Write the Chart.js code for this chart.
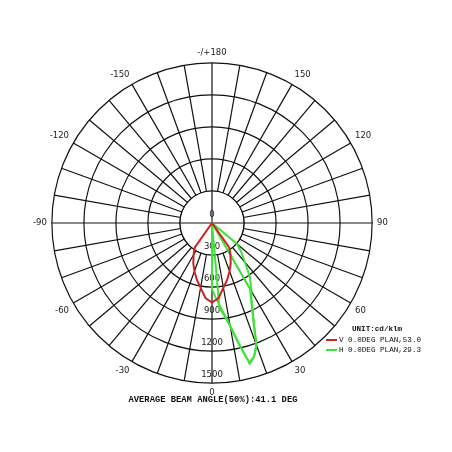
<!DOCTYPE html>
<html>
<head>
<meta charset="utf-8">
<title>Polar candela curve</title>
<script src="https://cdn.jsdelivr.net/npm/chart.js@4.4.1/dist/chart.umd.min.js"></script>
<style>
  body { margin: 0; background: #fff; }
  #wrap { position: relative; width: 452px; height: 452px; overflow: hidden; }
  #chartBox { position: absolute; left: 0; top: 0; width: 452px; height: 452px; }
  .mono { position: absolute; font-family: "Liberation Mono", "DejaVu Sans Mono", monospace; white-space: pre; color: #111; }
  .swatch { position: absolute; width: 11px; height: 2px; }
</style>
</head>
<body>
<div id="wrap">
  <div id="chartBox"><canvas id="polar"></canvas></div>
</div>
<script>
// angle categories, 2.5 deg apart, clockwise from the top (180) like the chart
const angles = [
  180, 177.5, 175, 172.5, 170, 167.5, 165, 162.5, 160, 157.5, 155, 152.5,
  150, 147.5, 145, 142.5, 140, 137.5, 135, 132.5, 130, 127.5, 125, 122.5,
  120, 117.5, 115, 112.5, 110, 107.5, 105, 102.5, 100, 97.5, 95, 92.5,
  90, 87.5, 85, 82.5, 80, 77.5, 75, 72.5, 70, 67.5, 65, 62.5,
  60, 57.5, 55, 52.5, 50, 47.5, 45, 42.5, 40, 37.5, 35, 32.5,
  30, 27.5, 25, 22.5, 20, 17.5, 15, 12.5, 10, 7.5, 5, 2.5,
  0, -2.5, -5, -7.5, -10, -12.5, -15, -17.5, -20, -22.5, -25, -27.5,
  -30, -32.5, -35, -37.5, -40, -42.5, -45, -47.5, -50, -52.5, -55, -57.5,
  -60, -62.5, -65, -67.5, -70, -72.5, -75, -77.5, -80, -82.5, -85, -87.5,
  -90, -92.5, -95, -97.5, -100, -102.5, -105, -107.5, -110, -112.5, -115, -117.5,
  -120, -122.5, -125, -127.5, -130, -132.5, -135, -137.5, -140, -142.5, -145, -147.5,
  -150, -152.5, -155, -157.5, -160, -162.5, -165, -167.5, -170, -172.5, -175, -177.5
];

const angleMarks = [180, 150, 120, 90, 60, 30, 0, -30, -60, -90, -120, -150];
const angleMarkText = ['-/+180', '150', '120', '90', '60', '30', '0', '-30', '-60', '-90', '-120', '-150'];
const radialTicks = [0, 300, 600, 900, 1200, 1500];

// V plane (red), cd/klm
const vDeg = [-40, -35, -30, -25, -20, -15, -10, -5, 0, 5, 10, 15, 20, 25, 30, 35, 40];
const vCd  = [0, 283, 345, 415, 480, 550, 615, 705, 745, 705, 615, 550, 480, 415, 345, 283, 0];

// H plane (green), two traces
const hDeg = [-2.5, 0, 2.5, 5, 7.5, 10, 12.5, 15, 17.5, 20, 22.5, 25, 27.5, 30, 32.5];
const hCd  = [0, 620, 690, 765, 860, 975, 1150, 1366, 1312, 1215, 1022, 890, 790, 714, 0];
const h2Deg = [0, 5, 7.5, 10, 12.5, 15, 17.5, 20, 22.5, 25, 27.5, 30, 35, 40, 45, 50, 52.5];
const h2Cd  = [0, 800, 870, 985, 1160, 1355, 1310, 1220, 1030, 900, 800, 740, 620, 480, 390, 306, 0];

const seriesNames = ['V 0.0DEG PLAN,53.0', 'H 0.0DEG PLAN,29.3'];
const seriesColors = ['#d02222', '#3ee23a'];
const unitText = 'UNIT:cd/klm';
const titleText = 'AVERAGE BEAM ANGLE(50%):41.1 DEG';

const gridColor = '#111';

function onAngles(deg, cd) {
  return angles.map(a => {
    const k = deg.indexOf(a);
    return k < 0 ? null : cd[k];
  });
}

// spokes start at the 300 ring, only the cross goes through the middle
const innerDisc = {
  id: 'innerDisc',
  beforeDatasetsDraw(chart) {
    const s = chart.scales.r;
    const ctx = chart.ctx;
    const r = s.getDistanceFromCenterForValue(300);
    const xc = s.xCenter, yc = s.yCenter;
    ctx.save();
    ctx.fillStyle = '#fff';
    ctx.beginPath();
    ctx.arc(xc, yc, r, 0, Math.PI * 2);
    ctx.fill();
    ctx.strokeStyle = gridColor;
    ctx.lineWidth = 1.2;
    ctx.beginPath();
    ctx.arc(xc, yc, r, 0, Math.PI * 2);
    ctx.stroke();
    ctx.beginPath();
    ctx.moveTo(xc - r, yc);
    ctx.lineTo(xc + r, yc);
    ctx.moveTo(xc, yc - r);
    ctx.lineTo(xc, yc + r);
    ctx.stroke();
    ctx.font = '8.5px "DejaVu Sans"';
    ctx.fillStyle = '#222';
    ctx.textAlign = 'center';
    ctx.textBaseline = 'middle';
    radialTicks.forEach(v => {
      ctx.fillText(String(v), xc, yc + s.getDistanceFromCenterForValue(v) - 8);
    });
    ctx.restore();
  }
};

new Chart(document.getElementById('polar'), {
  type: 'radar',
  data: {
    labels: angles,
    datasets: [
      { label: seriesNames[0], data: onAngles(vDeg, vCd), borderColor: seriesColors[0] },
      { label: seriesNames[1], data: onAngles(hDeg, hCd), borderColor: seriesColors[1] },
      { label: seriesNames[1], data: onAngles(h2Deg, h2Cd), borderColor: seriesColors[1] }
    ]
  },
  options: {
    responsive: true,
    maintainAspectRatio: false,
    animation: false,
    layout: { padding: { left: 32, right: 62, top: 44, bottom: 50 } },
    elements: {
      line: { borderWidth: 2, fill: false, tension: 0 },
      point: { radius: 0, hitRadius: 0, hoverRadius: 0 }
    },
    spanGaps: true,
    plugins: { legend: { display: false }, tooltip: { enabled: false }, title: { display: false } },
    scales: {
      r: {
        min: 0,
        max: 1500,
        ticks: { stepSize: 300, display: false },
        grid: { circular: true, color: gridColor, lineWidth: 1.2 },
        angleLines: {
          color: ctx => (angles[ctx.index] % 10 === 0 ? gridColor : 'transparent'),
          lineWidth: 1.2
        },
        pointLabels: {
          color: '#222',
          font: { family: 'DejaVu Sans', size: 8.5 },
          callback: (label) => {
            const k = angleMarks.indexOf(label);
            return k < 0 ? '' : angleMarkText[k];
          }
        }
      }
    }
  },
  plugins: [innerDisc]
});

// legend and footer text
const wrap = document.getElementById('wrap');
function addText(str, left, top, size, bold, width, align) {
  const d = document.createElement('div');
  d.className = 'mono';
  d.textContent = str;
  d.style.left = left + 'px';
  d.style.top = top + 'px';
  d.style.fontSize = size + 'px';
  d.style.lineHeight = Math.round(size + 1) + 'px';
  if (bold) d.style.fontWeight = 'bold';
  if (width) { d.style.width = width + 'px'; d.style.textAlign = align; }
  wrap.appendChild(d);
}
addText(unitText, 352, 325, 7.6, true);
seriesNames.forEach((name, i) => {
  addText(name, 339, 336 + i * 10, 7.6, false);
  const sw = document.createElement('div');
  sw.className = 'swatch';
  sw.style.left = '326px';
  sw.style.top = (339 + i * 10) + 'px';
  sw.style.background = seriesColors[i];
  wrap.appendChild(sw);
});
addText(titleText, 0, 395, 8.8, true, 426, 'center');
</script>
</body>
</html>
